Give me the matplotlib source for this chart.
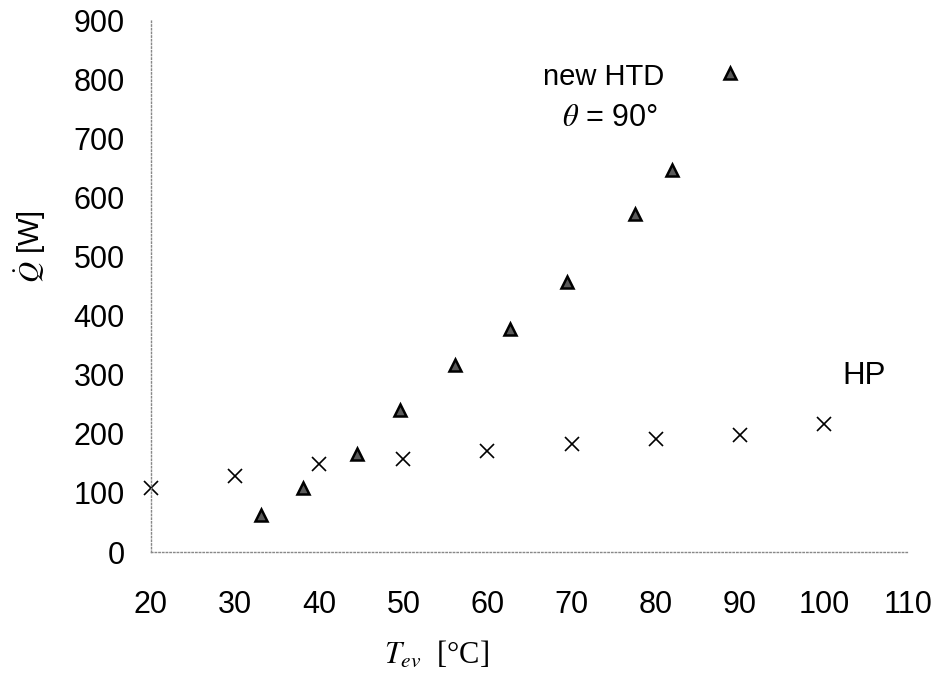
import matplotlib
matplotlib.use('Agg')
import matplotlib.pyplot as plt

plt.rcParams['font.family'] = ['Liberation Sans', 'DejaVu Sans']
plt.rcParams['mathtext.fontset'] = 'stix'

# --- data ---
hp_T = [20, 30, 40, 50, 60, 70, 80, 90, 100]
hp_Q = [108, 129, 149, 157, 171, 182, 191, 198, 217]

htd_T = [33.1, 38.1, 44.5, 49.6, 56.2, 62.7, 69.5, 77.5, 82.0, 88.8]
htd_Q = [63, 108, 165, 240, 317, 377, 456, 572, 646, 810]

x_ticks = list(range(20, 111, 10))
y_ticks = list(range(0, 901, 100))

fig = plt.figure(figsize=(9.39, 6.76), dpi=100)
ax = fig.add_axes([0.1608, 0.1834, 0.8062, 0.787])

ax.plot(hp_T, hp_Q, 'x', color='black', ms=10, mew=1.2, ls='none', clip_on=False)
ax.plot(htd_T, htd_Q, '^', mfc='#5a5a5a', mec='black', ms=9, mew=1.8, ls='none',
        clip_on=False)

ax.set_xlim(20, 110)
ax.set_ylim(0, 900)
ax.set_xticks(x_ticks)
ax.set_yticks(y_ticks)
ax.tick_params(axis='both', length=0, labelsize=22)
ax.tick_params(axis='x', pad=27)
ax.tick_params(axis='y', pad=19)

for side in ['top', 'right']:
    ax.spines[side].set_visible(False)
for side in ['left', 'bottom']:
    ax.spines[side].set_color('#888888')
    ax.spines[side].set_linestyle(':')
    ax.spines[side].set_linewidth(1.0)

ax.text(73.8, 804, 'new HTD', fontsize=21, ha='center', va='center')
ax.text(74.6, 734, r'$\theta$ = 90°', fontsize=22, ha='center', va='center')
ax.text(104.8, 298, 'HP', fontsize=22.5, ha='center', va='center')

fig.text(30 / 939, 1 - 247 / 676, r'$\dot{Q}$ [W]', rotation=90, fontsize=21,
         ha='center', va='center')
fig.text(437 / 939, 1 - 655 / 676, r'$T_{ev}$  [°C]', fontsize=22,
         family='Liberation Serif', ha='center', va='center')

plt.savefig('out.png', dpi=100)
plt.close()
